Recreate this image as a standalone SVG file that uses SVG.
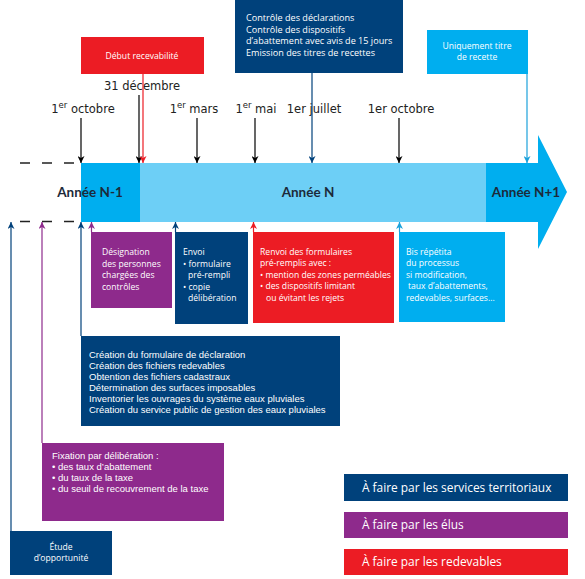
<svg xmlns="http://www.w3.org/2000/svg" width="585" height="579" viewBox="0 0 585 579">
<style>
.t{font-family:"Open Sans","Liberation Sans",Arial,sans-serif;font-size:8.6px;fill:#fff}
.b{font-size:9.1px}
.l{font-family:"Liberation Sans",Arial,sans-serif;font-size:9.5px;fill:#fff}
.d{font-family:"DejaVu Sans",sans-serif;font-size:11.5px;fill:#222}
.y{font-family:Lato,"Open Sans",sans-serif;font-weight:bold;font-size:13.5px;fill:#1c2a3a}
.lg{font-family:"Open Sans","Liberation Sans",Arial,sans-serif;font-size:11.9px;fill:#fff}
.navy{fill:#00417b}.pur{fill:#8e2a8c}.red{fill:#ec1c24}.lb{fill:#00aeef}
.c line{stroke-width:1.2;fill:none}
</style>
<defs>
<marker id="ak" viewBox="0 0 10 10" refX="10" refY="5" markerWidth="8" markerHeight="7" orient="auto" markerUnits="userSpaceOnUse"><path d="M0,0 L10,5 L0,10 L3,5 z" fill="#000"/></marker>
<marker id="an" viewBox="0 0 10 10" refX="10" refY="5" markerWidth="8" markerHeight="7" orient="auto" markerUnits="userSpaceOnUse"><path d="M0,0 L10,5 L0,10 L3,5 z" fill="#00417b"/></marker>
<marker id="ap" viewBox="0 0 10 10" refX="10" refY="5" markerWidth="8" markerHeight="7" orient="auto" markerUnits="userSpaceOnUse"><path d="M0,0 L10,5 L0,10 L3,5 z" fill="#8e2a8c"/></marker>
<marker id="ar" viewBox="0 0 10 10" refX="10" refY="5" markerWidth="8" markerHeight="7" orient="auto" markerUnits="userSpaceOnUse"><path d="M0,0 L10,5 L0,10 L3,5 z" fill="#ec1c24"/></marker>
<marker id="al" viewBox="0 0 10 10" refX="10" refY="5" markerWidth="8" markerHeight="7" orient="auto" markerUnits="userSpaceOnUse"><path d="M0,0 L10,5 L0,10 L3,5 z" fill="#1ba1db"/></marker>
</defs>
<rect width="585" height="579" fill="#fff"/>

<g id="timeline">
<line x1="20" y1="163" x2="81" y2="163" stroke="#222" stroke-width="1.3" stroke-dasharray="10,12"/>
<line x1="20" y1="221.5" x2="81" y2="221.5" stroke="#222" stroke-width="1.3" stroke-dasharray="10,12"/>
<rect x="81" y="163" width="59" height="59" fill="#00aeef"/>
<rect x="140" y="163" width="346" height="59" fill="#6dcff6"/>
<polygon points="486,163 538,163 538,135 567,192 538,249 538,222 486,222" fill="#00aeef"/>
<text class="y" x="90" y="197" text-anchor="middle">Année N-1</text>
<text class="y" x="308" y="197" text-anchor="middle">Année N</text>
<text class="y" x="526" y="197" text-anchor="middle">Année N+1</text>
</g>

<g id="dates">
<text class="d" x="142" y="90" text-anchor="middle">31 décembre</text>
<text class="d" x="83" y="113" text-anchor="middle">1<tspan font-size="8.5" dy="-5">er</tspan><tspan dy="5"> octobre</tspan></text>
<text class="d" x="194" y="113" text-anchor="middle">1<tspan font-size="8.5" dy="-5">er</tspan><tspan dy="5"> mars</tspan></text>
<text class="d" x="256" y="113" text-anchor="middle">1<tspan font-size="8.5" dy="-5">er</tspan><tspan dy="5"> mai</tspan></text>
<text class="d" x="314" y="113" text-anchor="middle">1er juillet</text>
<text class="d" x="401" y="113" text-anchor="middle">1er octobre</text>
</g>

<g id="debut-recevabilite">
<rect class="red" x="81" y="37" width="123" height="37"/>
<text class="t" x="142" y="58.5" text-anchor="middle">Début recevabilité</text>
</g>

<g id="controle">
<rect class="navy" x="235" y="0" width="168" height="73"/>
<text class="t b" x="246" y="21">Contrôle des déclarations</text>
<text class="t b" x="246" y="32.5">Contrôle des dispositifs</text>
<text class="t b" x="246" y="44">d’abattement avec avis de 15 jours</text>
<text class="t b" x="246" y="55.5">Emission des titres de recettes</text>
</g>

<g id="uniquement">
<rect class="lb" x="427" y="30" width="101" height="44"/>
<text class="t" x="477" y="49" text-anchor="middle">Uniquement titre</text>
<text class="t" x="477" y="60" text-anchor="middle">de recette</text>
</g>

<g id="designation">
<rect class="pur" x="91" y="232" width="81" height="76"/>
<text class="t" x="102" y="255" font-size="9">Désignation</text>
<text class="t" x="102" y="266.5" font-size="9">des personnes</text>
<text class="t" x="102" y="278" font-size="9">chargées des</text>
<text class="t" x="102" y="289.5" font-size="9">contrôles</text>
</g>

<g id="envoi">
<rect class="navy" x="175" y="232" width="73" height="92"/>
<text class="t" x="183" y="255">Envoi</text>
<text class="t" x="183" y="266.5">• formulaire</text>
<text class="t" x="188" y="278">pré-rempli</text>
<text class="t" x="183" y="289.5">• copie</text>
<text class="t" x="188" y="301">délibération</text>
</g>

<g id="renvoi">
<rect class="red" x="253" y="232" width="141" height="91"/>
<text class="t" x="260" y="254.5">Renvoi des formulaires</text>
<text class="t" x="260" y="266">pré-remplis avec :</text>
<text class="t" x="260" y="277.5">• mention des zones perméables</text>
<text class="t" x="260" y="289">• des dispositifs limitant</text>
<text class="t" x="266" y="300.5">ou évitant les rejets</text>
</g>

<g id="bis-repetita">
<rect class="lb" x="399" y="232" width="106" height="90"/>
<text class="t" x="406" y="254.5">Bis répétita</text>
<text class="t" x="406" y="266">du processus</text>
<text class="t" x="406" y="277.5">si modification,</text>
<text class="t" x="408" y="289">taux d’abattements,</text>
<text class="t" x="406" y="300.5">redevables, surfaces...</text>
</g>

<g id="creation">
<rect class="navy" x="81" y="336" width="259" height="90"/>
<text class="l" x="89" y="358">Création du formulaire de déclaration</text>
<text class="l" x="89" y="369">Création des fichiers redevables</text>
<text class="l" x="89" y="380">Obtention des fichiers cadastraux</text>
<text class="l" x="89" y="391">Détermination des surfaces imposables</text>
<text class="l" x="89" y="402">Inventorier les ouvrages du système eaux pluviales</text>
<text class="l" x="89" y="413">Création du service public de gestion des eaux pluviales</text>
</g>

<g id="fixation">
<rect class="pur" x="42" y="443" width="182" height="78"/>
<text class="l" x="52" y="459">Fixation par délibération :</text>
<text class="l" x="52" y="470">• des taux d’abattement</text>
<text class="l" x="52" y="481">• du taux de la taxe</text>
<text class="l" x="52" y="492">• du seuil de recouvrement de la taxe</text>
</g>

<g id="etude">
<rect class="navy" x="10" y="531" width="102" height="44"/>
<text class="t" x="61" y="550" text-anchor="middle">Étude</text>
<text class="t" x="61" y="561" text-anchor="middle">d’opportunité</text>
</g>

<g id="legende">
<rect class="navy" x="344" y="474" width="224" height="27"/>
<text class="lg" x="362" y="492">À faire par les services territoriaux</text>
<rect class="pur" x="344" y="512" width="224" height="26"/>
<text class="lg" x="362" y="529">À faire par les élus</text>
<rect class="red" x="344" y="549" width="224" height="26"/>
<text class="lg" x="362" y="566">À faire par les redevables</text>
</g>

<g id="connectors" class="c">
<line x1="81" y1="118" x2="81" y2="163" stroke="#000" marker-end="url(#ak)"/>
<line x1="139" y1="95" x2="139" y2="163" stroke="#000" marker-end="url(#ak)"/>
<line x1="143" y1="74" x2="143" y2="163" stroke="#ec1c24" marker-end="url(#ar)"/>
<line x1="197" y1="118" x2="197" y2="163" stroke="#000" marker-end="url(#ak)"/>
<line x1="255" y1="118" x2="255" y2="163" stroke="#000" marker-end="url(#ak)"/>
<line x1="312" y1="73" x2="312" y2="163" stroke="#00417b" marker-end="url(#an)"/>
<line x1="399" y1="118" x2="399" y2="163" stroke="#000" marker-end="url(#ak)"/>
<line x1="527" y1="74" x2="527" y2="163" stroke="#1ba1db" marker-end="url(#al)"/>
<line x1="11" y1="531" x2="11" y2="222" stroke="#00417b" marker-end="url(#an)"/>
<line x1="42" y1="443" x2="42" y2="222" stroke="#8e2a8c" marker-end="url(#ap)"/>
<line x1="81" y1="336" x2="81" y2="222" stroke="#00417b" marker-end="url(#an)"/>
<line x1="91.5" y1="232" x2="91.5" y2="222" stroke="#8e2a8c" marker-end="url(#ap)"/>
<line x1="175.5" y1="232" x2="175.5" y2="222" stroke="#00417b" marker-end="url(#an)"/>
<line x1="253.5" y1="232" x2="253.5" y2="222" stroke="#ec1c24" marker-end="url(#ar)"/>
<line x1="399.5" y1="232" x2="399.5" y2="222" stroke="#1ba1db" marker-end="url(#al)"/>
</g>
</svg>
